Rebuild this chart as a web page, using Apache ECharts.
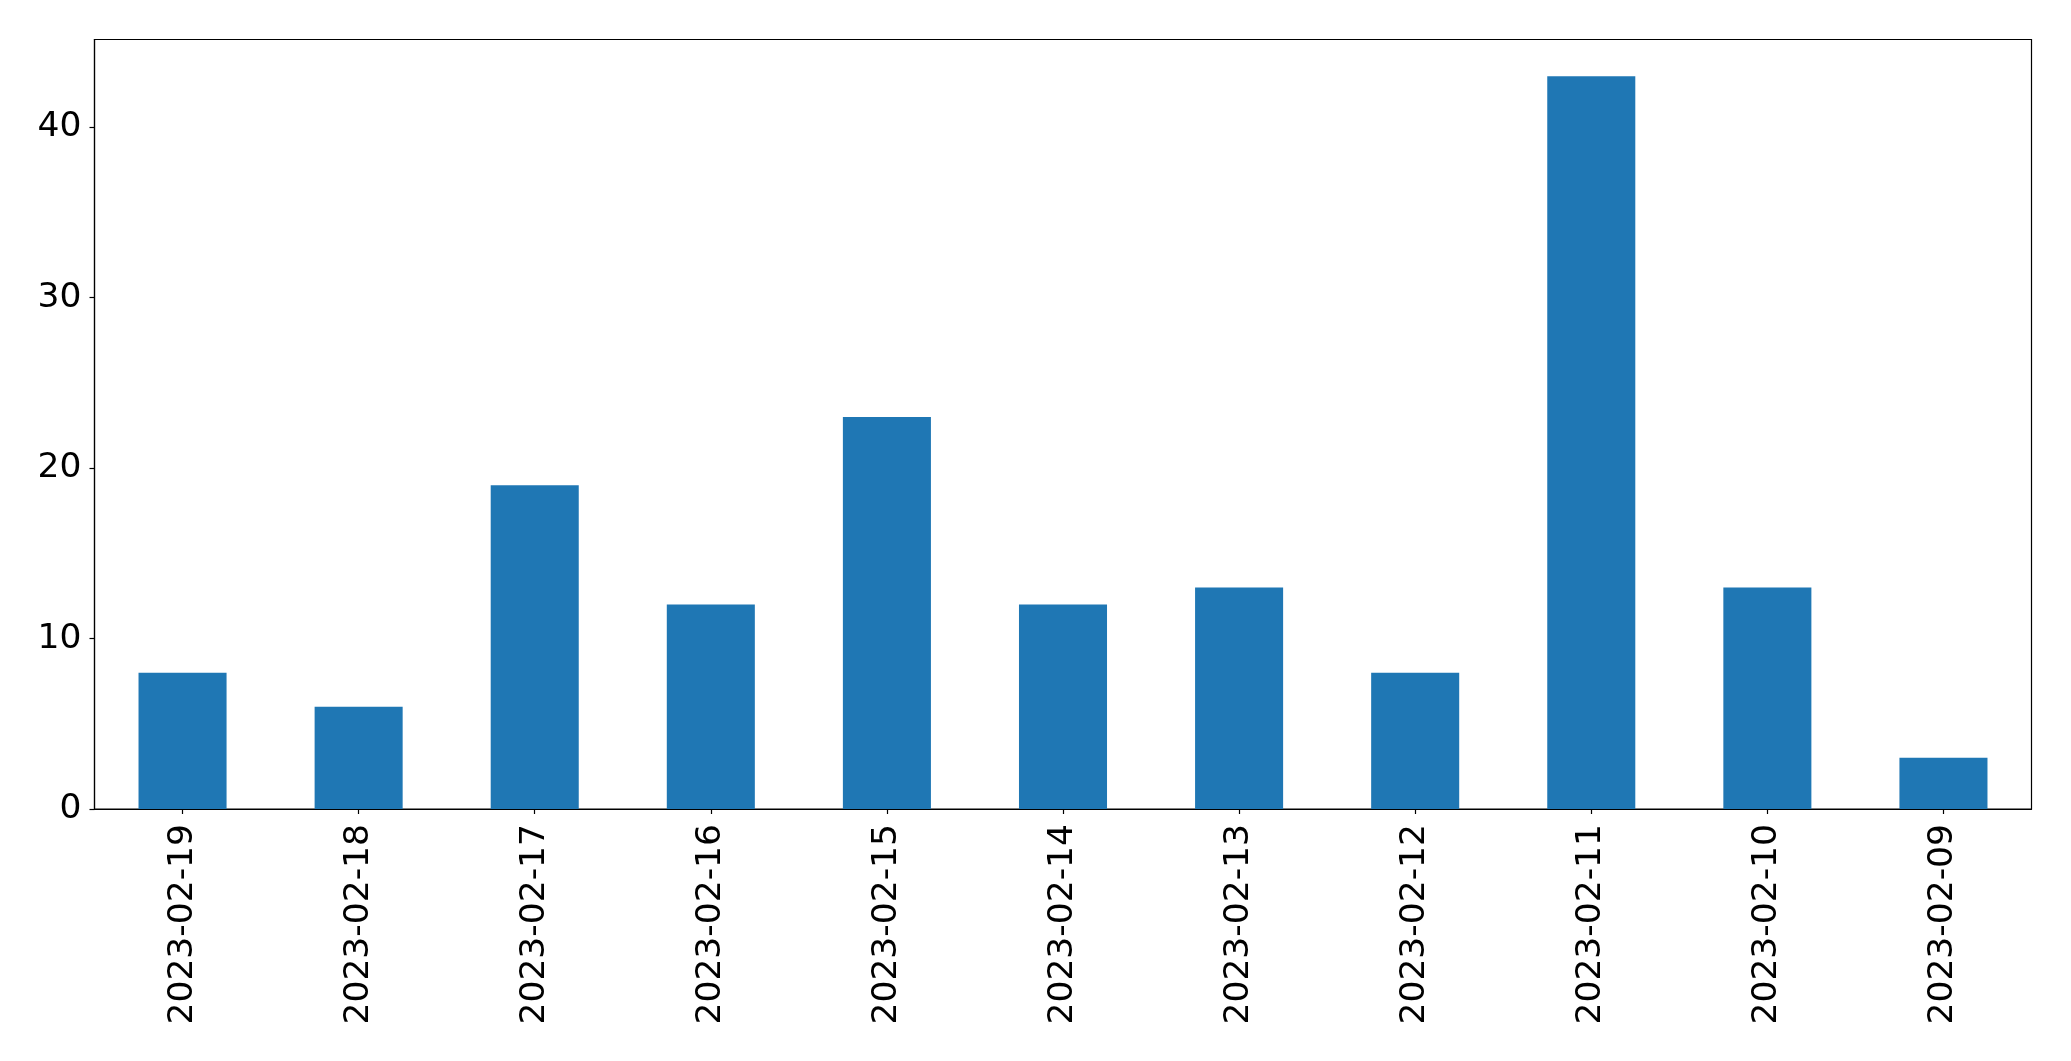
<!DOCTYPE html>
<html>
<head>
<meta charset="utf-8">
<script src="https://cdn.jsdelivr.net/npm/echarts@6/dist/echarts.min.js"></script>
<style>
html,body{margin:0;padding:0;background:#fff;}
#chart{width:2071px;height:1061px;}
</style>
</head>
<body>
<div id="chart"></div>
<script>
const categories = ['2023-02-19','2023-02-18','2023-02-17','2023-02-16','2023-02-15','2023-02-14','2023-02-13','2023-02-12','2023-02-11','2023-02-10','2023-02-09'];
const values = [8, 6, 19, 12, 23, 12, 13, 8, 43, 13, 3];
const yTicks = [0, 10, 20, 30, 40];

const chart = echarts.init(document.getElementById('chart'), null, {renderer: 'canvas'});
const font = 'DejaVu Sans';
chart.setOption({
  animation: false,
  backgroundColor: '#ffffff',
  grid: {
    left: 94.5, top: 39.5, right: 39.5, bottom: 252,
    show: true, borderColor: '#000', borderWidth: 1.2, backgroundColor: 'transparent',
    containLabel: false
  },
  xAxis: {
    type: 'category',
    data: categories,
    boundaryGap: true,
    axisLine: {show: true, lineStyle: {color: '#000', width: 1.2}},
    axisTick: {show: true, alignWithLabel: true, length: 5, lineStyle: {color: '#000', width: 1.2}},
    axisLabel: {rotate: 90, margin: 15, color: '#000', fontSize: 34.5, fontFamily: font, interval: 0},
    splitLine: {show: false}
  },
  yAxis: {
    type: 'value',
    min: 0,
    max: 45.15,
    interval: 10,
    axisLine: {show: true, lineStyle: {color: '#000', width: 1.2}},
    axisTick: {show: true, length: 5, customValues: yTicks, lineStyle: {color: '#000', width: 1.2}},
    axisLabel: {margin: 13, color: '#000', fontSize: 34.5, fontFamily: font, customValues: yTicks},
    splitLine: {show: false}
  },
  series: [{
    type: 'bar',
    data: values,
    barWidth: '50%',
    itemStyle: {color: '#1f77b4'}
  }]
});
</script>
</body>
</html>
